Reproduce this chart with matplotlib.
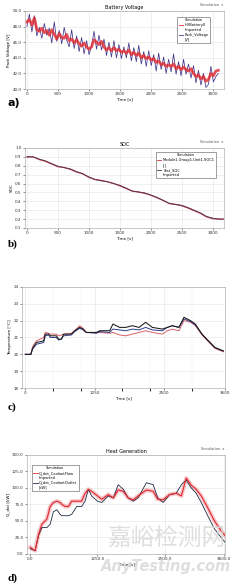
#!/usr/bin/env python3
"""Four stacked result panels: pack voltage, SOC, temperature, heat generation."""

from __future__ import annotations

import matplotlib

matplotlib.use("Agg")
import matplotlib.pyplot as plt
from matplotlib.lines import Line2D

# ---- a) battery voltage -------------------------------------------------
volt_time = list(range(0, 3081, 40))
volt_sim = [
    48.6, 48.9, 48.2, 49.1, 47.6, 47.4, 47.8, 47.2, 47.5, 46.9,
    47.6, 47.0, 46.4, 47.1, 46.6, 46.5, 47.0, 46.2, 46.4, 45.9,
    46.3, 45.8, 45.5, 45.9, 45.4, 45.1, 45.4, 46.3, 46.0, 45.7,
    46.1, 45.4, 45.0, 45.3, 44.9, 45.3, 44.9, 45.1, 44.7, 44.9,
    44.6, 45.0, 44.4, 44.7, 44.3, 44.6, 44.0, 44.3, 43.9, 44.1,
    43.7, 43.9, 43.4, 43.6, 43.1, 43.3, 42.9, 43.1, 42.9, 43.2,
    42.6, 42.9, 42.5, 42.8, 42.5, 42.3, 42.6, 42.0, 41.6, 41.8,
    41.3, 41.6, 41.0, 41.2, 42.0, 41.7, 42.3, 42.4,
]
volt_test = [
    48.0, 49.6, 47.3, 49.4, 46.8, 47.9, 46.5, 48.4, 46.9, 47.8,
    45.9, 48.6, 46.1, 47.5, 45.8, 47.9, 46.3, 45.4, 47.6, 45.2,
    46.8, 44.8, 46.6, 44.5, 46.2, 44.4, 45.6, 47.4, 45.1, 46.9,
    45.0, 46.4, 44.3, 46.0, 44.1, 46.2, 44.0, 45.7, 43.9, 45.4,
    44.0, 45.9, 43.6, 45.3, 43.5, 45.6, 43.2, 44.8, 42.9, 44.9,
    43.0, 44.4, 42.3, 44.6, 42.5, 44.1, 42.0, 43.8, 42.2, 44.5,
    41.9, 43.5, 41.7, 43.8, 41.9, 43.2, 41.4, 43.0, 40.8, 42.4,
    40.5, 42.0, 40.2, 40.6, 42.9, 40.9, 41.6, 42.0,
]
volt_xticks = [0, 500, 1000, 1500, 2000, 2500, 3000]
volt_yticks = [40.0, 42.0, 44.0, 46.0, 48.0, 50.0]

# ---- b) state of charge -------------------------------------------------
soc_time = [0, 100, 200, 300, 400, 500, 600, 700, 800, 900, 1000, 1100,
            1200, 1300, 1400, 1500, 1600, 1700, 1800, 1900, 2000, 2100,
            2200, 2300, 2400, 2500, 2600, 2700, 2800, 2900, 3000, 3100, 3170]
soc_sim = [0.90, 0.90, 0.87, 0.85, 0.82, 0.79, 0.78, 0.76, 0.73, 0.71,
           0.67, 0.645, 0.635, 0.62, 0.60, 0.575, 0.545, 0.515, 0.505,
           0.49, 0.47, 0.44, 0.41, 0.375, 0.365, 0.35, 0.325, 0.295,
           0.265, 0.225, 0.205, 0.20, 0.20]
soc_test = [0.90, 0.90, 0.875, 0.855, 0.825, 0.795, 0.78, 0.765, 0.735,
            0.71, 0.675, 0.645, 0.63, 0.62, 0.60, 0.58, 0.55, 0.515,
            0.505, 0.495, 0.47, 0.445, 0.41, 0.375, 0.365, 0.355, 0.33,
            0.30, 0.27, 0.23, 0.21, 0.20, 0.20]
soc_xticks = [0, 500, 1000, 1500, 2000, 2500, 3000]
soc_yticks = [0.1, 0.2, 0.3, 0.4, 0.5, 0.6, 0.7, 0.8, 0.9, 1.0]

# ---- c) temperature -----------------------------------------------------
temp_time = [0, 100, 130, 200, 330, 360, 420, 450, 560, 600, 650, 690,
             830, 890, 980, 1040, 1100, 1280, 1340, 1520, 1580, 1700,
             1810, 1930, 2050, 2170, 2290, 2470, 2560, 2650, 2770, 2860,
             2980, 3065, 3185, 3300, 3420, 3570]
temp_black = [20.0, 20.0, 20.35, 20.7, 20.8, 21.2, 21.2, 21.1, 21.1, 20.9,
              20.9, 21.2, 21.2, 21.4, 21.6, 21.5, 21.3, 21.3, 21.4, 21.4,
              21.8, 21.6, 21.6, 21.7, 21.6, 21.9, 21.6, 21.5, 21.6, 21.7,
              21.6, 22.2, 22.0, 21.8, 21.2, 20.8, 20.4, 20.2]
temp_navy = [20.0, 20.0, 20.3, 20.6, 20.7, 21.1, 21.15, 21.0, 21.0, 20.85,
             20.9, 21.1, 21.15, 21.35, 21.55, 21.45, 21.3, 21.25, 21.35,
             21.3, 21.5, 21.45, 21.4, 21.5, 21.45, 21.6, 21.45, 21.4, 21.6,
             21.7, 21.6, 22.1, 21.95, 21.75, 21.2, 20.8, 20.4, 20.2]
temp_red = [20.0, 20.0, 20.45, 20.8, 21.0, 21.3, 21.25, 21.2, 21.2, 21.1,
            21.15, 21.2, 21.25, 21.4, 21.7, 21.55, 21.3, 21.3, 21.3, 21.25,
            21.3, 21.15, 21.1, 21.2, 21.3, 21.4, 21.3, 21.2, 21.4, 21.5,
            21.4, 22.0, 21.9, 21.7, 21.15, 20.75, 20.35, 20.15]
temp_xticks = [0, 1250, 2500, 3600]
temp_yticks = [18, 19, 20, 21, 22, 23, 24]

# ---- d) heat generation -------------------------------------------------
heat_time = [0, 90, 155, 215, 310, 370, 430, 495, 555, 590, 650, 710, 770,
             865, 955, 1020, 1080, 1140, 1250, 1330, 1450, 1545, 1635, 1730,
             1820, 1915, 2005, 2160, 2285, 2370, 2470, 2590, 2715, 2810,
             2900, 2995, 3085, 3180, 3300, 3425, 3550, 3620]
heat_sim = [10, 5, 30, 45, 53, 72, 78, 80, 78, 75, 72, 72, 80,
            80, 80, 92, 98, 95, 88, 83, 90, 85, 97, 95,
            85, 82, 88, 97, 95, 83, 82, 90, 92, 88,
            115, 104, 98, 88, 70, 50, 35, 28]
heat_test = [8, 5, 28, 40, 40, 45, 64, 67, 60, 58, 58, 58, 60,
             72, 72, 80, 98, 88, 80, 78, 88, 85, 105, 98,
             85, 80, 85, 108, 105, 85, 78, 90, 92, 105,
             112, 100, 92, 78, 58, 38, 25, 18]
heat_xticks = [0, 1250, 2500, 3600]
heat_yticks = [0, 25, 50, 75, 100, 125, 150]

RED = "#e3262c"
DARK = "#40358a"
TICK_FS = 3.0


def style_axes(ax, xticks, yticks, xfmt, yfmt, xlabel, ylabel) -> None:
    ax.set_xticks(xticks)
    ax.set_xticklabels([xfmt.format(v) for v in xticks])
    ax.set_yticks(yticks)
    ax.set_yticklabels([yfmt.format(v) for v in yticks])
    ax.tick_params(labelsize=TICK_FS, length=1.5, width=0.4, pad=1.0,
                   colors="#333333")
    for spine in ax.spines.values():
        spine.set_color("#b0b0b0")
        spine.set_linewidth(0.5)
    ax.grid(True, color="#e4e4e4", linewidth=0.4)
    ax.set_axisbelow(True)
    ax.set_xlabel(xlabel, fontsize=TICK_FS, labelpad=0.5)
    ax.set_ylabel(ylabel, fontsize=TICK_FS, labelpad=1.0)


def add_header(fig, ax, title: str) -> None:
    pos = ax.get_position()
    ax.set_title(title, fontsize=3.5, pad=1.5)
    fig.text(pos.x1 - 0.005, pos.y1 + 0.006, "Simulation  \u25be", fontsize=2.5,
             ha="right", va="bottom", color="#555555")


def add_legend(ax, labels, colors, loc, anchor) -> None:
    handles = []
    for col in colors:
        if col is None:
            handles.append(Line2D([], [], linestyle="none"))
        else:
            handles.append(Line2D([], [], color=col, linewidth=0.6))
    leg = ax.legend(handles, labels, title="Simulation", loc=loc,
                    bbox_to_anchor=anchor, fontsize=2.6, title_fontsize=2.4,
                    fancybox=False, edgecolor="#555555", framealpha=1.0,
                    handlelength=1.2, handletextpad=0.4, borderpad=0.4,
                    labelspacing=0.25)
    leg.get_frame().set_linewidth(0.4)


def main() -> None:
    fig = plt.figure(figsize=(2.48, 5.84), dpi=100)

    # a)
    ax = fig.add_axes([0.101, 0.8476, 0.802, 0.1336])
    ax.plot(volt_time, volt_test, color=DARK, linewidth=0.55)
    ax.plot(volt_time, volt_sim, color=RED, linewidth=2.0, alpha=0.8)
    ax.set_xlim(-30, 3170)
    ax.set_ylim(40, 50)
    style_axes(ax, volt_xticks, volt_yticks, "{:.0f}", "{:.1f}",
               "Time [s]", "Pack Voltage [V]")
    add_header(fig, ax, "Battery Voltage")
    add_legend(ax, ["HVBattery0", "Imported", "Pack_Voltage", "[V]"],
               [RED, None, DARK, None], "upper right", (0.94, 0.95))

    # b)
    ax = fig.add_axes([0.101, 0.6096, 0.802, 0.137])
    ax.plot(soc_time, soc_sim, color="#c8343a", linewidth=0.9)
    ax.plot(soc_time, soc_test, color="#4a3a5a", linewidth=0.6)
    ax.set_xlim(-30, 3180)
    ax.set_ylim(0.1, 1.0)
    style_axes(ax, soc_xticks, soc_yticks, "{:.0f}", "{:.1f}",
               "Time [s]", "SOC")
    add_header(fig, ax, "SOC")
    add_legend(ax, ["Module1.Group1.Unit1.SOC1", "[-]", "Test_SOC", "Imported"],
               ["#c8343a", None, "#4a3a5a", None], "upper right", (0.97, 0.975))

    # c)
    ax = fig.add_axes([0.0887, 0.3356, 0.8185, 0.173])
    ax.plot(temp_time, temp_red, color="#d9606a", linewidth=0.7)
    ax.plot(temp_time, temp_navy, color="#2e3c8c", linewidth=0.7)
    ax.plot(temp_time, temp_black, color="#1a1a1a", linewidth=0.75)
    ax.set_xlim(-60, 3600)
    ax.set_ylim(18, 24)
    style_axes(ax, temp_xticks, temp_yticks, "{:.0f}", "{:.0f}",
               "Time [s]", "Temperature [\u00b0C]")
    ax.set_xticks([500, 1000, 1750, 2250, 3000], minor=True)
    ax.grid(True, which="minor", axis="x", color="#ececec", linewidth=0.3)

    # d)
    ax = fig.add_axes([0.109, 0.0514, 0.798, 0.1695])
    ax.plot(heat_time, heat_sim, color="#f2a0a8", linewidth=3.0, alpha=0.6)
    ax.plot(heat_time, heat_test, color="#1f2a44", linewidth=0.6)
    ax.plot(heat_time, heat_sim, color=RED, linewidth=0.8)
    ax.set_xlim(-60, 3620)
    ax.set_ylim(0, 150)
    style_axes(ax, heat_xticks, heat_yticks, "{:.1f}", "{:.1f}",
               "Time [s]", "Q_dot [kW]")
    add_header(fig, ax, "Heat Generation")
    add_legend(ax, ["Q_dot_CoolantFlow", "Imported", "Q_dot_CoolantOutlet", "[kW]"],
               [RED, None, "#1f2a44", None], "upper left", (0.015, 0.92))

    # watermark
    fig.text(0.67, 0.077, "嘉峪检测网", fontsize=17, color="#d6d6d6",
             family=["Noto Sans CJK SC", "DejaVu Sans"], ha="center",
             va="center", alpha=0.8)
    fig.text(0.67, 0.030, "AnyTesting.com", fontsize=10.5, color="#d6d6d6",
             style="italic", weight="bold", ha="center", va="center", alpha=0.8)

    # panel letters
    fig.text(0.03, 0.818, "a)", fontsize=8, weight="bold", family="DejaVu Sans")
    for letter, y in [("b)", 0.578), ("c)", 0.298), ("d)", 0.006)]:
        fig.text(0.03, y, letter, fontsize=8, weight="bold",
                 family="Liberation Serif")

    fig.savefig("out.png", dpi=100)
    plt.close(fig)


if __name__ == "__main__":
    main()
